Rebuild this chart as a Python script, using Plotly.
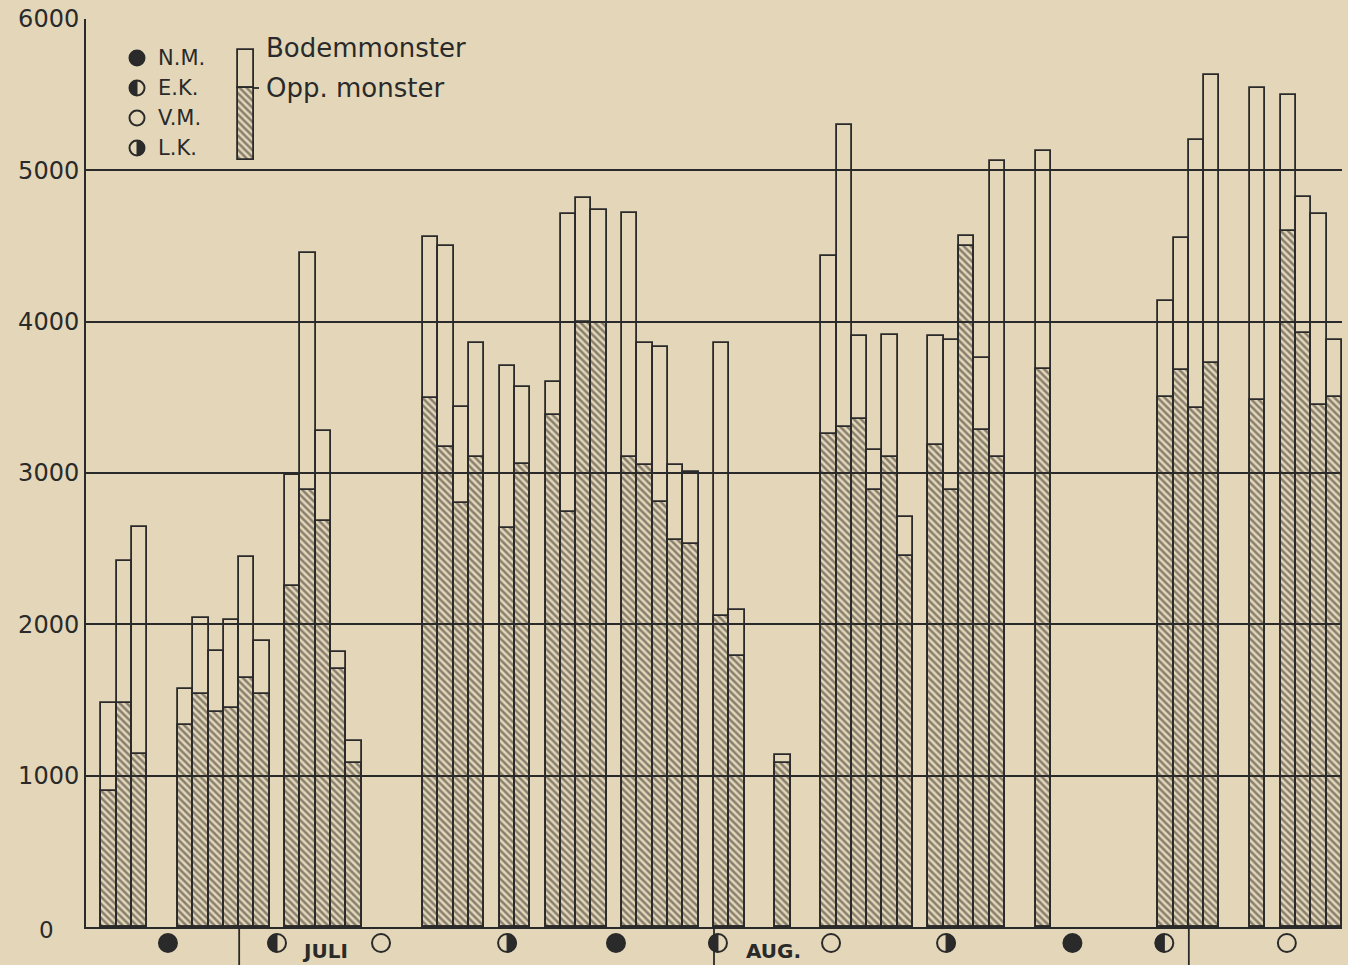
import numpy as np
import plotly.graph_objects as go

# ---------------- data ----------------
# day offset relative to 1 July (0 = 1 July, -9 = 22 June, 31 = 1 Aug, 62 = 1 Sep)
days = [-9, -8, -7, -4, -3, -2, -1, 0, 1, 3, 4, 5, 6, 7, 12, 13, 14, 15, 17, 18,
        20, 21, 22, 23, 25, 26, 27, 28, 29, 31, 32, 35, 38, 39, 40, 41, 42, 43,
        45, 46, 47, 48, 49, 52, 60, 61, 62, 63, 66, 68, 69, 70, 71]
bodem = [1480, 2420, 2640, 1573, 2044, 1825, 2026, 2444, 1891, 2990, 4455, 3277,
         1814, 1228, 4559, 4500, 3434, 3856, 3708, 3570, 3604, 4710, 4814, 4741,
         4715, 3858, 3834, 3055, 3005, 3858, 2095, 1136, 4436, 5300, 3907, 3151,
         3911, 2707, 3907, 3882, 4565, 3760, 5060, 5128, 4136, 4550, 5202, 5633,
         5545, 5497, 4826, 4712, 3882]
opp = [900, 1481, 1146, 1337, 1540, 1420, 1446, 1644, 1540, 2252, 2890, 2684,
       1705, 1081, 3493, 3175, 2800, 3104, 2639, 3060, 3384, 2740, 4000, 3990,
       3104, 3055, 2810, 2560, 2530, 2055, 1790, 1081, 3258, 3307, 3355, 2885,
       3107, 2453, 3182, 2885, 4500, 3284, 3107, 3684, 3503, 3680, 3428, 3730,
       3481, 4600, 3925, 3452, 3500]

y_ticks = [1000, 2000, 3000, 4000, 5000, 6000]
y_ticktext = ["1000", "2000", "3000", "4000", "5000", "6000"]

month_starts = [0, 31, 62]
month_labels = ["JULI", "AUG."]
month_label_x = [5.6, 34.9]

# moon phases: NM = new moon, EK = first quarter, VM = full moon, LK = last quarter
moon_x = [-4.65, 2.47, 9.26, 17.49, 24.6, 31.26, 38.64, 46.15, 54.4, 60.4, 68.4]
moon_phase = ["NM", "EK", "VM", "LK", "NM", "EK", "VM", "LK", "NM", "EK", "VM"]
legend_phases = ["NM", "EK", "VM", "LK"]
legend_phase_labels = ["N.M.", "E.K.", "V.M.", "L.K."]

# ---------------- style ----------------
PAPER = "#e4d7b9"
INK = "#2a2a2a"
HATCH = "#2b2724"
FONT = "DejaVu Sans"

W, H = 1348, 965
ML, MR, MT, MB = 86, 6, 19, 38
XR = [-10, 72]

x_centers = [d + 0.5 for d in days]

hatch = dict(shape="\\", fgcolor=HATCH, bgcolor="rgba(0,0,0,0)", size=5, solidity=0.5)

fig = go.Figure()
fig.add_trace(go.Bar(
    x=x_centers, y=bodem, width=1.0, name="Bodemmonster",
    marker=dict(color="rgba(0,0,0,0)", line=dict(color=INK, width=1.8)),
    showlegend=False, hoverinfo="skip"))
fig.add_trace(go.Bar(
    x=x_centers, y=opp, width=1.0, name="Opp. monster",
    marker=dict(color="rgba(0,0,0,0)", line=dict(color=INK, width=1.8), pattern=hatch),
    showlegend=False, hoverinfo="skip"))

# legend key bar (in data units of the main axes)
key_x = 0.45
key_w = 1.05
key_lo, key_mid, key_hi = 5068, 5544, 5795
fig.add_trace(go.Bar(
    x=[key_x], y=[key_mid - key_lo], base=[key_lo], width=key_w,
    marker=dict(color="rgba(0,0,0,0)", line=dict(color=INK, width=1.8), pattern=hatch),
    showlegend=False, hoverinfo="skip"))
fig.add_trace(go.Bar(
    x=[key_x], y=[key_hi - key_mid], base=[key_mid], width=key_w,
    marker=dict(color="rgba(0,0,0,0)", line=dict(color=INK, width=1.8)),
    showlegend=False, hoverinfo="skip"))

shapes = []
annotations = []

pw = W - ML - MR
ph = H - MT - MB


def px_to_paper_x(px):
    return (px - ML) / pw


def px_to_paper_y(py):
    return (H - MB - py) / ph


def moon_shapes(xanchor, xref, yanchor, r, phase):
    out = []
    fill = INK if phase == "NM" else "rgba(0,0,0,0)"
    out.append(dict(type="circle", xref=xref, yref="paper", xsizemode="pixel",
                    ysizemode="pixel", xanchor=xanchor, yanchor=yanchor,
                    x0=-r, x1=r, y0=-r, y1=r, fillcolor=fill,
                    line=dict(color=INK, width=2), layer="above"))
    if phase in ("EK", "LK"):
        if phase == "EK":
            th = np.linspace(np.pi / 2, 3 * np.pi / 2, 25)
        else:
            th = np.linspace(-np.pi / 2, np.pi / 2, 25)
        pts = [(r * np.cos(t), r * np.sin(t)) for t in th]
        path = "M " + " L ".join(f"{a:.2f},{b:.2f}" for a, b in pts) + " Z"
        out.append(dict(type="path", xref=xref, yref="paper", xsizemode="pixel",
                        ysizemode="pixel", xanchor=xanchor, yanchor=yanchor,
                        path=path, fillcolor=INK, line=dict(color=INK, width=1),
                        layer="above"))
    return out


# moon phases along the bottom
moon_y = px_to_paper_y(943)
for mx, ph_ in zip(moon_x, moon_phase):
    shapes += moon_shapes(mx, "x", moon_y, 9, ph_)

# month separators
for ms in month_starts:
    shapes.append(dict(type="line", xref="x", yref="paper", x0=ms, x1=ms,
                       y0=0, y1=px_to_paper_y(H + 5), line=dict(color=INK, width=1.8)))

for lab, lx in zip(month_labels, month_label_x):
    annotations.append(dict(x=lx, xref="x", y=px_to_paper_y(951), yref="paper",
                            text=lab, showarrow=False, xanchor="center", yanchor="middle",
                            font=dict(family=FONT, size=20, color=INK, weight="bold")))

# legend: moon symbols
for i, (ph_, lab) in enumerate(zip(legend_phases, legend_phase_labels)):
    yy = px_to_paper_y(58 + 30 * i)
    shapes += moon_shapes(px_to_paper_x(137), "paper", yy, 7.5, ph_)
    annotations.append(dict(x=px_to_paper_x(156), xref="paper", y=yy, yref="paper",
                            text=lab, showarrow=False, xanchor="left", yanchor="middle",
                            font=dict(family=FONT, size=21, color=INK)))

# legend: bar key labels and tick
shapes.append(dict(type="line", xref="paper", yref="paper",
                   x0=px_to_paper_x(253), x1=px_to_paper_x(259),
                   y0=px_to_paper_y(88), y1=px_to_paper_y(88),
                   line=dict(color=INK, width=1.8)))
annotations.append(dict(x=px_to_paper_x(264), xref="paper", y=px_to_paper_y(48), yref="paper",
                        text="Bodemmonster", showarrow=False, xanchor="left", yanchor="middle",
                        font=dict(family=FONT, size=26, color=INK)))
annotations.append(dict(x=px_to_paper_x(264), xref="paper", y=px_to_paper_y(88), yref="paper",
                        text="Opp. monster", showarrow=False, xanchor="left", yanchor="middle",
                        font=dict(family=FONT, size=26, color=INK)))

# zero label
annotations.append(dict(x=px_to_paper_x(46), xref="paper", y=px_to_paper_y(930), yref="paper",
                        text="0", showarrow=False, xanchor="center", yanchor="middle",
                        font=dict(family=FONT, size=23, color=INK)))

fig.update_layout(
    width=W, height=H,
    margin=dict(l=ML, r=MR, t=MT, b=MB, pad=0),
    paper_bgcolor=PAPER, plot_bgcolor=PAPER,
    barmode="overlay", bargap=0,
    showlegend=False,
    shapes=shapes, annotations=annotations,
    font=dict(family=FONT, color=INK),
    xaxis=dict(range=XR, showgrid=False, zeroline=False, showticklabels=False,
               ticks="", showline=True, linecolor=INK, linewidth=2),
    yaxis=dict(range=[0, 6000], tickvals=y_ticks, ticktext=y_ticktext,
               showgrid=True, gridcolor=INK, gridwidth=1.8, zeroline=False,
               showline=True, linecolor=INK, linewidth=2, ticks="",
               tickfont=dict(family=FONT, size=24, color=INK)),
)

fig.write_html(
    "out.html",
    config={"displayModeBar": False},
    post_script="document.body.style.margin='0';document.body.style.overflow='hidden';"
                "document.body.style.background='" + PAPER + "';",
)
